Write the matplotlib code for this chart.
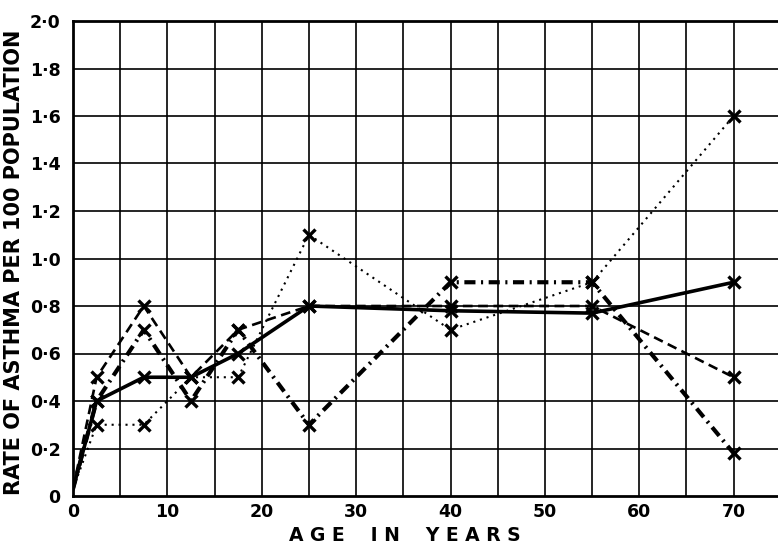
import matplotlib.pyplot as plt
import numpy as np
plt.rcParams['lines.scale_dashes'] = False

# age group mid-points (years)
ages = [0, 2.5, 7.5, 12.5, 17.5, 25, 40, 55, 70]

# rate of asthma per 100 population, one list per curve
rate_solid = [0.03, 0.40, 0.50, 0.50, 0.60, 0.80, 0.78, 0.77, 0.90]
rate_dashed = [0.03, 0.50, 0.80, 0.50, 0.70, 0.80, 0.80, 0.80, 0.50]
rate_dashdot = [0.03, 0.40, 0.70, 0.40, 0.70, 0.30, 0.90, 0.90, 0.18]
rate_dotted = [0.03, 0.30, 0.30, 0.50, 0.50, 1.10, 0.70, 0.90, 1.60]

x_ticks = [0, 10, 20, 30, 40, 50, 60, 70]
x_labels = ['0', '10', '20', '30', '40', '50', '60', '70']
y_ticks = [0, 0.2, 0.4, 0.6, 0.8, 1.0, 1.2, 1.4, 1.6, 1.8, 2.0]
y_labels = ['0', '0·2', '0·4', '0·6', '0·8', '1·0', '1·2', '1·4', '1·6', '1·8', '2·0']

fig = plt.figure(figsize=(7.78, 5.46), dpi=100)
ax = fig.add_axes([73 / 778, 50 / 546, 1 - 73 / 778, 475 / 546])

# graph paper grid: every 5 years and every 0.2
for gx in np.arange(5, 71, 5):
    ax.axvline(gx, color='black', lw=1.2, zorder=1)
for gy in np.arange(0.2, 2.0, 0.2):
    ax.axhline(gy, color='black', lw=1.2, zorder=1)

mk = dict(marker='x', markersize=8.5, markeredgewidth=2.4, markevery=slice(1, None), color='black')
ax.plot(ages, rate_solid, lw=2.6, ls='-', zorder=4, **mk)
ax.plot(ages, rate_dashed, lw=1.9, ls=(0, (7, 4)), zorder=3, **mk)
ax.plot(ages, rate_dashdot, lw=3.0, ls=(0, (8, 4, 1.5, 4)), zorder=3, **mk)
ax.plot(ages, rate_dotted, lw=1.5, ls=(0, (1.5, 3.5)), zorder=3, **mk)

ax.set_xlim(0, 74.7)
ax.set_ylim(0, 2.0)
ax.set_xticks(x_ticks)
ax.set_xticklabels(x_labels)
ax.set_yticks(y_ticks)
ax.set_yticklabels(y_labels)
ax.tick_params(length=0, labelsize=12.5)
ax.tick_params(axis='x', pad=5)
ax.tick_params(axis='y', pad=9)
for lab in ax.get_xticklabels() + ax.get_yticklabels():
    lab.set_fontweight('bold')

for side in ['left', 'bottom', 'top']:
    ax.spines[side].set_linewidth(2.0)
ax.spines['right'].set_visible(False)

ax.set_xlabel('A G E    I N    Y E A R S', fontsize=13.5, fontweight='bold')
ax.xaxis.set_label_coords(0.471, -0.064)
ax.set_ylabel('RATE OF ASTHMA PER 100 POPULATION', fontsize=15, fontweight='bold')
ax.yaxis.set_label_coords(-0.069, 0.493)

fig.savefig('out.png', dpi=100)
plt.close()
